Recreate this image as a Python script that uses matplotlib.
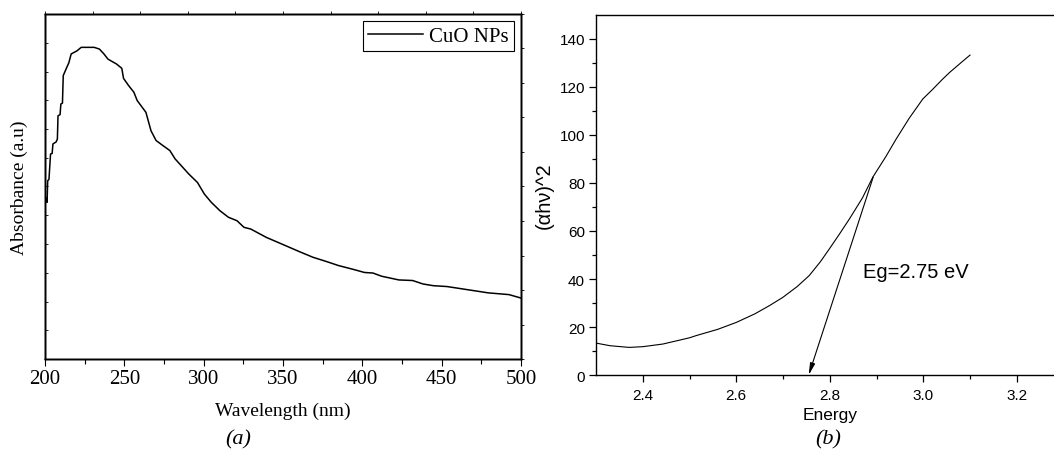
import numpy as np
import matplotlib
matplotlib.use('Agg')
import matplotlib.pyplot as plt

# (a) UV-vis absorbance of CuO NPs
wavelength = [201.0, 201.3, 201.7, 202.5, 203.5, 204.5, 205.0, 207.0, 207.8, 208.2,
              209.5, 210.0, 211.0, 211.5, 213.7, 215.0, 216.5, 220.2, 222.8, 231.0,
              234.3, 237.0, 239.7, 245.1, 248.4, 249.5, 252.7, 256.0, 258.1, 263.6,
              266.8, 270.0, 274.4, 278.7, 282.0, 290.7, 296.1, 300.4, 304.8, 310.2,
              315.6, 321.0, 325.4, 329.7, 339.5, 349.2, 360.1, 368.8, 377.4, 385.0,
              394.8, 401.3, 406.7, 412.1, 423.0, 431.7, 438.2, 444.7, 453.4, 466.4,
              479.4, 492.4, 500.0]
absorbance = [0.560, 0.545, 0.620, 0.625, 0.713, 0.715, 0.748, 0.755, 0.765, 0.846,
              0.850, 0.887, 0.890, 0.986, 1.014, 1.030, 1.061, 1.072, 1.084, 1.084,
              1.078, 1.062, 1.043, 1.026, 1.011, 0.976, 0.951, 0.928, 0.899, 0.858,
              0.794, 0.760, 0.742, 0.725, 0.696, 0.643, 0.614, 0.574, 0.545, 0.516,
              0.493, 0.481, 0.458, 0.452, 0.423, 0.400, 0.374, 0.354, 0.339, 0.325,
              0.311, 0.301, 0.299, 0.288, 0.275, 0.273, 0.261, 0.255, 0.252, 0.241,
              0.230, 0.224, 0.212]

# (b) Tauc plot
energy = [2.30, 2.33, 2.371, 2.40, 2.443, 2.50, 2.514, 2.56, 2.60, 2.64, 2.671, 2.70,
          2.73, 2.756, 2.78, 2.799, 2.82, 2.842, 2.87, 2.892, 2.92, 2.942, 2.97, 2.999,
          3.02, 3.04, 3.056, 3.08, 3.10]
tauc = [13.3, 12.2, 11.5, 11.8, 12.9, 15.5, 16.4, 19.0, 21.9, 25.5, 28.9, 32.4,
        36.8, 41.4, 47.2, 52.5, 58.5, 65.0, 73.8, 82.4, 91.0, 98.3, 107.0, 115.0,
        119.0, 123.0, 126.0, 130.0, 133.3]
eg_label = 'Eg=2.75 eV'
eg_value = 2.755
tangent_point = (2.893, 82.5)

W, H = 1054, 460
fig = plt.figure(figsize=(W / 100, H / 100), dpi=100)

serif = 'Liberation Serif'
sans = 'Liberation Sans'

# ---------------- panel (a)
ax1 = fig.add_axes([45 / W, 1 - 360 / H, 476 / W, 345 / H])
ax1.plot(wavelength, absorbance, color='black', lw=1.1, label='CuO NPs')
ax1.set_xlim(200, 500)
ax1.set_ylim(0, 1.2)
ax1.set_xticks(np.arange(200, 501, 50))
ax1.set_xticks(np.arange(225, 500, 50), minor=True)
ax1.set_yticks(np.arange(0, 1.21, 0.1))
ax1.tick_params(axis='x', which='major', direction='out', length=5, width=0.8, pad=2,
                labelsize=15)
ax1.tick_params(axis='x', which='minor', direction='out', length=3.5, width=0.8)
ax1.tick_params(axis='y', direction='in', length=2, width=0.6, labelleft=False)
for lab in ax1.get_xticklabels():
    lab.set_fontfamily(serif)
ax1.set_xlabel('Wavelength (nm)', fontfamily=serif, fontsize=14, labelpad=10)
ax1.set_ylabel('Absorbance (a.u)', fontfamily=serif, fontsize=14, labelpad=12)
leg = ax1.legend(loc='upper right', prop={'family': serif, 'size': 15}, fancybox=False,
                 framealpha=1, edgecolor='black', handlelength=2.6, handletextpad=0.3,
                 borderpad=0.25, borderaxespad=0.35)
leg.get_frame().set_linewidth(0.8)

# mirror axes with their own tick spacing
top = ax1.twiny()
top.set_xlim(200, 500)
top.set_xticks(np.linspace(200, 500, 11))
top.tick_params(axis='x', direction='out', length=2, width=0.6, labeltop=False)
right = ax1.twinx()
right.set_ylim(0, 1.2)
right.set_yticks(np.linspace(0, 1.2, 11))
right.tick_params(axis='y', direction='out', length=2.5, width=0.6, labelright=False)
for a in (ax1, top, right):
    for s in a.spines.values():
        s.set_linewidth(1.0)

fig.text(238 / W, 1 - 440 / H, '(a)', fontfamily=serif, fontstyle='italic', fontsize=16,
         ha='center', va='center')

# ---------------- panel (b)
ax2 = fig.add_axes([596 / W, 1 - 376 / H, 467.5 / W, 360 / H])
ax2.plot(energy, tauc, color='black', lw=0.8)
ax2.set_xlim(2.3, 3.3)
ax2.set_ylim(0, 150)
ax2.set_xticks([2.4, 2.6, 2.8, 3.0, 3.2])
ax2.set_xticks([2.5, 2.7, 2.9, 3.1], minor=True)
ax2.set_yticks(np.arange(0, 141, 20))
ax2.set_yticks(np.arange(10, 150, 20), minor=True)
ax2.tick_params(axis='both', which='major', direction='out', length=5, width=0.9,
                labelsize=11, pad=3)
ax2.tick_params(axis='both', which='minor', direction='out', length=3, width=0.9)
ax2.tick_params(axis='x', pad=4)
for lab in ax2.get_xticklabels() + ax2.get_yticklabels():
    lab.set_fontfamily(sans)
ax2.spines['right'].set_visible(False)
for s in ax2.spines.values():
    s.set_linewidth(1.0)
ax2.set_xlabel('Energy', fontfamily=sans, fontsize=12.5, labelpad=4)
ax2.set_ylabel('(\u03b1h\u03bd)^2', fontfamily=sans, fontsize=14.5, labelpad=4)
ax2.annotate('', xy=(eg_value, 0), xytext=tangent_point,
             arrowprops=dict(arrowstyle='-|>,head_length=0.7,head_width=0.15',
                             color='black', lw=0.8, shrinkA=0, shrinkB=0))
ax2.text(2.872, 43, eg_label, fontfamily=sans, fontsize=14.5, ha='left', va='center')

fig.text(828 / W, 1 - 440 / H, '(b)', fontfamily=serif, fontstyle='italic', fontsize=16,
         ha='center', va='center')

fig.savefig('out.png', dpi=100)
